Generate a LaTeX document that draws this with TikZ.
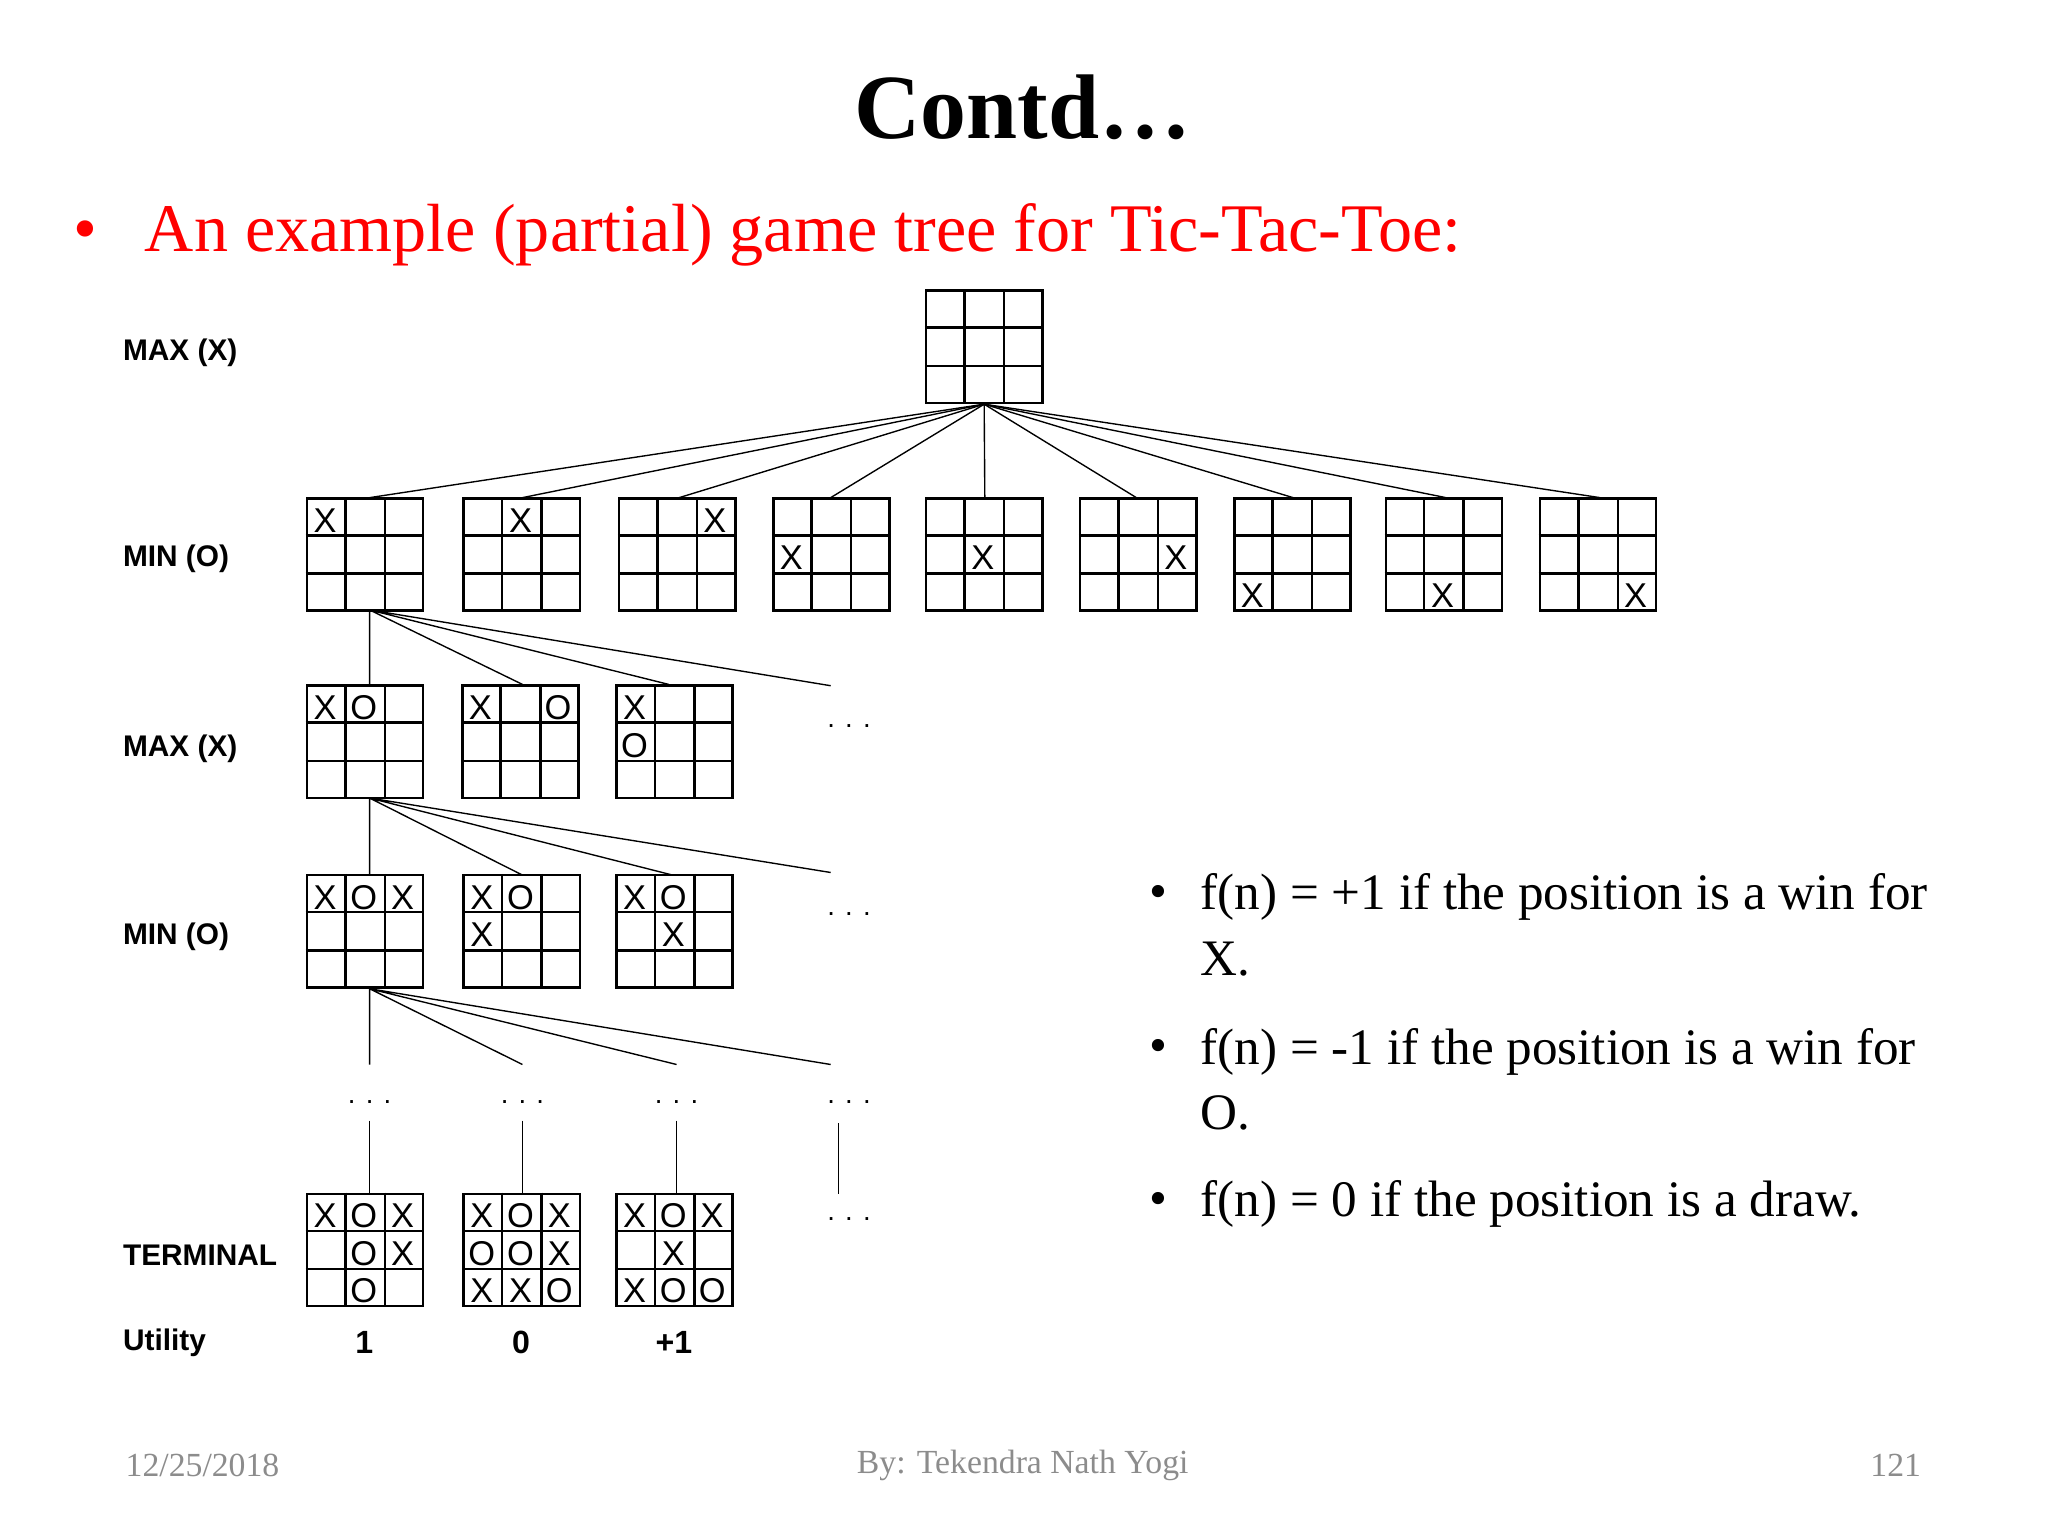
\documentclass[tikz,border=0pt]{standalone}
\usepackage{fontspec}
\setmainfont{Liberation Serif}
\newfontfamily\lab{Liberation Sans}
\usetikzlibrary{calc}
\definecolor{ftgray}{RGB}{140,140,140}
\tikzset{brd/.style={draw,line width=1.1pt,minimum width=1.78cm,minimum height=1.72cm,inner sep=0pt},
 edge/.style={line width=0.6pt},
 lvl/.style={anchor=west,font=\lab\bfseries\fontsize{13}{15}\selectfont},
 utl/.style={font=\lab\bfseries\fontsize{14}{16}\selectfont},
 mk/.style={font=\lab\fontsize{15}{16}\selectfont,inner sep=0pt},
 bl/.style={anchor=west,font=\fontsize{22.3}{26}\selectfont},
 ft/.style={text=ftgray,font=\fontsize{14.7}{17}\selectfont},
 dots/.style={font=\lab\fontsize{12}{12}\selectfont}}
\newcommand\grid[1]{%
 \draw[line width=1.1pt] ($(#1.north west)!1/3!(#1.north east)$) -- ($(#1.south west)!1/3!(#1.south east)$)
  ($(#1.north west)!2/3!(#1.north east)$) -- ($(#1.south west)!2/3!(#1.south east)$)
  ($(#1.north west)!1/3!(#1.south west)$) -- ($(#1.north east)!1/3!(#1.south east)$)
  ($(#1.north west)!2/3!(#1.south west)$) -- ($(#1.north east)!2/3!(#1.south east)$);}
\newcommand\mk[4]{\node[mk] at ($(#1.north west)+(#2*29.7+14.8,#3*28.7+18)$) {#4};}
\begin{document}
\begin{tikzpicture}[x=0.02cm,y=-0.02cm]
\useasboundingbox (0,0) rectangle (1568,1176);
\node[font=\bfseries\fontsize{40}{48}\selectfont] (title) at (783,82) {Contd…};
\node[anchor=west,text=red,font=\fontsize{29.7}{34}\selectfont] (sub) at (50,180) {•\hspace{0.7em}An example (partial) game tree for Tic-Tac-Toe:};
% root
\node[brd] (r) at (753.5,265.5) {}; \grid{r}
% MIN level
\foreach \i/\x in {1/279.5,2/399.5,3/518.5,4/636.5,5/753.5,6/871.5,7/989.5,8/1105.5,9/1223.5}{
 \node[brd] (m\i) at (\x,424.5) {}; \grid{m\i}
}
\mk{m1}{0}{0}{X}\mk{m2}{1}{0}{X}\mk{m3}{2}{0}{X}
\mk{m4}{0}{1}{X}\mk{m5}{1}{1}{X}\mk{m6}{2}{1}{X}
\mk{m7}{0}{2}{X}\mk{m8}{1}{2}{X}\mk{m9}{2}{2}{X}
\foreach \i/\x in {1/283,2/400,3/520,4/636,5/754,6/870,7/990,8/1107,9/1225}{
 \coordinate (e\i) at (\x,381);
 \draw[edge] (r.south) -- (e\i);
}
% MAX level
\foreach \i/\x in {1/279.5,2/398.5,3/516.5}{\node[brd] (a\i) at (\x,568) {}; \grid{a\i}}
\mk{a1}{0}{0}{X}\mk{a1}{1}{0}{O}
\mk{a2}{0}{0}{X}\mk{a2}{2}{0}{O}
\mk{a3}{0}{0}{X}\mk{a3}{0}{1}{O}
\coordinate (ad) at (636,525);
\draw[edge] (283,467) -- (283,525) (283,467) -- (400,524) (283,467) -- (512,524) (283,467) -- (ad);
\node[dots] at (650,556) {. . .};
% MIN2 level
\foreach \i/\x in {1/279.5,2/399.5,3/516.5}{\node[brd] (n\i) at (\x,713) {}; \grid{n\i}}
\mk{n1}{0}{0}{X}\mk{n1}{1}{0}{O}\mk{n1}{2}{0}{X}
\mk{n2}{0}{0}{X}\mk{n2}{1}{0}{O}\mk{n2}{0}{1}{X}
\mk{n3}{0}{0}{X}\mk{n3}{1}{0}{O}\mk{n3}{1}{1}{X}
\coordinate (nd) at (636,668);
\draw[edge] (283,611) -- (283,670) (283,611) -- (400,670) (283,611) -- (515,670) (283,611) -- (nd);
\node[dots] at (650,700) {. . .};
% lower dots
\coordinate (d1) at (283,815); \coordinate (d2) at (400,815); \coordinate (d3) at (518,815); \coordinate (d4) at (636,815);
\draw[edge] (283,757) -- (d1) (283,757) -- (d2) (283,757) -- (d3) (283,757) -- (d4);
\foreach \x in {283,400,518,650}{\node[dots] at (\x,844) {. . .};}
% terminal
\foreach \i/\x in {1/279.5,2/399.5,3/516.5}{\node[brd] (t\i) at (\x,957) {}; \grid{t\i}}
\draw[edge] (283,858) -- (283,914) (400,858) -- (400,914) (518,858) -- (518,914) (642,860) -- (642,914);
\node[dots] at (650,933) {. . .};
\mk{t1}{0}{0}{X}\mk{t1}{1}{0}{O}\mk{t1}{2}{0}{X}\mk{t1}{1}{1}{O}\mk{t1}{2}{1}{X}\mk{t1}{1}{2}{O}
\mk{t2}{0}{0}{X}\mk{t2}{1}{0}{O}\mk{t2}{2}{0}{X}\mk{t2}{0}{1}{O}\mk{t2}{1}{1}{O}\mk{t2}{2}{1}{X}\mk{t2}{0}{2}{X}\mk{t2}{1}{2}{X}\mk{t2}{2}{2}{O}
\mk{t3}{0}{0}{X}\mk{t3}{1}{0}{O}\mk{t3}{2}{0}{X}\mk{t3}{1}{1}{X}\mk{t3}{0}{2}{X}\mk{t3}{1}{2}{O}\mk{t3}{2}{2}{O}
% utility
\node[utl] (u1) at (279,1028) {1};
\node[utl] (u2) at (399,1028) {0};
\node[utl] (u3) at (516,1028) {+1};
% level labels
\node[lvl] (l1) at (88,270) {MAX (X)};
\node[lvl] (l2) at (88,428) {MIN (O)};
\node[lvl] (l3) at (88,573) {MAX (X)};
\node[lvl] (l4) at (88,717) {MIN (O)};
\node[lvl] (l5) at (88,961) {TERMINAL};
\node[lvl] (l6) at (88,1028) {Utility};
% right bullets
\node[bl] (b1) at (874,687) {•};
\node[bl] (b1t) at (913,687) {f(n) = +1 if the position is a win for};
\node[bl] (b1u) at (913,734) {X.};
\node[bl] (b2) at (874,805) {•};
\node[bl] (b2t) at (913,805) {f(n) = -1 if the position is a win for};
\node[bl] (b2u) at (913,852) {O.};
\node[bl] (b3) at (874,922) {•};
\node[bl] (b3t) at (913,922) {f(n) = 0 if the position is a draw.};
% footer
\node[ft,anchor=west] (f1) at (90,1122) {12/25/2018};
\node[ft] (f2) at (783,1122) {By: Tekendra Nath Yogi};
\node[ft,anchor=east] (f3) at (1477,1122) {121};
\end{tikzpicture}
\end{document}
